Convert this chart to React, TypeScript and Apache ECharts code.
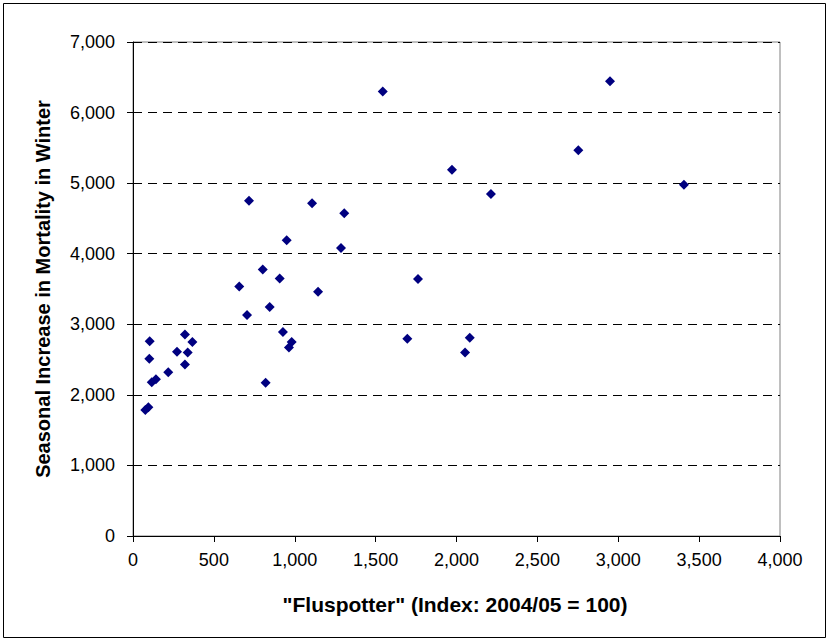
import React, { useEffect, useRef } from "react";
import * as echarts from "echarts";

const fluspotter: number[] = [
  103, 321, 367, 272, 338, 101, 321, 218, 142, 116, 95, 76,
  717, 1107, 1306, 950, 1286, 802, 907, 657, 1144, 845, 705, 927, 981, 964, 820,
  1544, 1972, 2213, 1762, 1696, 2082, 2053, 2949, 2753, 3406,
];
const mortality: number[] = [
  2760, 2855, 2750, 2610, 2600, 2510, 2430, 2320, 2220, 2180, 1825, 1785,
  4750, 4715, 4575, 4190, 4080, 3775, 3650, 3535, 3460, 3245, 3130, 2890, 2750, 2670, 2170,
  6300, 5190, 4845, 3640, 2795, 2810, 2600, 6445, 5465, 4978,
];
const xTicks = { min: 0, max: 4000, interval: 500 };
const yTicks = { min: 0, max: 7000, interval: 1000 };
const xTitle = '"Fluspotter" (Index: 2004/05 = 100)';
const yTitle = "Seasonal Increase in Mortality in Winter";

const fmt = (v: number) => v.toLocaleString("en-US");

export default function App() {
  const ref = useRef<HTMLDivElement>(null);
  useEffect(() => {
    if (!ref.current) return;
    const chart = echarts.init(ref.current, undefined, { renderer: "svg" });
    const font = "Arial, 'Liberation Sans', sans-serif";
    chart.setOption({
      animation: false,
      backgroundColor: "#fff",
      graphic: [
        {
          type: "rect",
          shape: { x: 3.5, y: 3.5, width: 822, height: 634 },
          style: { fill: "none", stroke: "#000", lineWidth: 1 },
          silent: true,
          z: 0,
        },
        {
          type: "text",
          x: 455,
          y: 604,
          style: {
            text: xTitle,
            fontFamily: font,
            fontSize: 21,
            fontWeight: "bold",
            fill: "#000",
            align: "center",
            verticalAlign: "middle",
          },
          silent: true,
        },
      ],
      grid: {
        left: 133,
        right: 49,
        top: 42,
        bottom: 105,
        show: true,
        borderColor: "#808080",
        borderWidth: 1,
        backgroundColor: "transparent",
      },
      xAxis: {
        type: "value",
        ...xTicks,
        axisLine: { show: true, lineStyle: { color: "#000", width: 1 } },
        axisTick: { show: true, inside: false, length: 6, lineStyle: { color: "#000" } },
        axisLabel: { formatter: fmt, fontFamily: font, fontSize: 18, color: "#000", margin: 15 },
        splitLine: { show: false },
      },
      yAxis: {
        type: "value",
        ...yTicks,
        name: yTitle,
        nameLocation: "middle",
        nameGap: 80,
        nameTextStyle: { fontFamily: font, fontSize: 20, fontWeight: "bold", color: "#000" },
        axisLine: { show: true, lineStyle: { color: "#000", width: 1 } },
        axisTick: { show: true, inside: false, length: 6, lineStyle: { color: "#000" } },
        axisLabel: { formatter: fmt, fontFamily: font, fontSize: 18, color: "#000", margin: 18 },
        splitLine: { show: true, lineStyle: { color: "#000", type: [9, 6], width: 1 } },
      },
      series: [
        {
          type: "scatter",
          symbol: "diamond",
          symbolSize: 10,
          itemStyle: { color: "#000080", opacity: 1 },
          data: fluspotter.map((x, i) => [x, mortality[i]]),
        },
      ],
    });
    return () => chart.dispose();
  }, []);
  return (
    <div
      ref={ref}
      style={{ position: "absolute", left: 0, top: 0, width: 829, height: 641 }}
    />
  );
}
